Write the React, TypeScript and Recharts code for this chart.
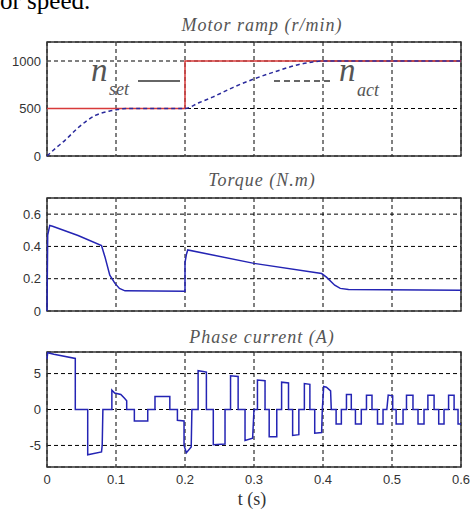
import React from "react";
import { LineChart, Line, XAxis, YAxis, CartesianGrid, ReferenceArea } from "recharts";

// time ticks shared by the three panels
const timeTicks = [0, 0.1, 0.2, 0.3, 0.4, 0.5, 0.6];

// speed panel (r/min)
const speedTicks = [0, 500, 1000];
const speedSet = [
    { t: 0, v: 500 },
    { t: 0.2, v: 500 },
    { t: 0.2, v: 1000 },
    { t: 0.6, v: 1000 }
];
const speedAct = [
    { t: 0, v: 0 },
    { t: 0.013, v: 85 },
    { t: 0.026, v: 165 },
    { t: 0.045, v: 297 },
    { t: 0.07, v: 427 },
    { t: 0.09, v: 472 },
    { t: 0.1, v: 487 },
    { t: 0.11, v: 498 },
    { t: 0.12, v: 500 },
    { t: 0.2, v: 500 },
    { t: 0.22, v: 560 },
    { t: 0.24, v: 620 },
    { t: 0.27, v: 723 },
    { t: 0.3, v: 811 },
    { t: 0.335, v: 898 },
    { t: 0.364, v: 961 },
    { t: 0.385, v: 990 },
    { t: 0.4, v: 1000 },
    { t: 0.6, v: 1000 }
];

// torque panel (N.m)
const torqueTicks = [0, 0.2, 0.4, 0.6];
const torque = [
    { t: 0, v: 0 },
    { t: 0.001, v: 0.47 },
    { t: 0.004, v: 0.53 },
    { t: 0.008, v: 0.525 },
    { t: 0.045, v: 0.468 },
    { t: 0.079, v: 0.405 },
    { t: 0.084, v: 0.335 },
    { t: 0.091, v: 0.222 },
    { t: 0.0985, v: 0.171 },
    { t: 0.105, v: 0.14 },
    { t: 0.113, v: 0.125 },
    { t: 0.2, v: 0.123 },
    { t: 0.2, v: 0.3 },
    { t: 0.202, v: 0.35 },
    { t: 0.204, v: 0.378 },
    { t: 0.3, v: 0.295 },
    { t: 0.398, v: 0.232 },
    { t: 0.405, v: 0.21 },
    { t: 0.417, v: 0.16 },
    { t: 0.425, v: 0.14 },
    { t: 0.437, v: 0.133 },
    { t: 0.6, v: 0.128 }
];

// phase current panel (A)
const currentTicks = [-5, 0, 5];
const current = [
    { t: 0, v: 7.0 }, { t: 0.001, v: 7.9 }, { t: 0.01, v: 7.7 }, { t: 0.041, v: 7.1 },
    { t: 0.041, v: 0 }, { t: 0.059, v: 0 }, { t: 0.059, v: -6.3 }, { t: 0.079, v: -5.9 },
    { t: 0.08, v: -5.0 }, { t: 0.081, v: 0 }, { t: 0.094, v: 0 }, { t: 0.094, v: 2.7 },
    { t: 0.098, v: 2.3 }, { t: 0.107, v: 2.1 }, { t: 0.112, v: 1.6 }, { t: 0.1155, v: 1.2 },
    { t: 0.1155, v: 0 }, { t: 0.1266, v: 0 }, { t: 0.1266, v: -1.6 }, { t: 0.146, v: -1.6 },
    { t: 0.146, v: 0 }, { t: 0.1565, v: 0 }, { t: 0.1565, v: 1.8 }, { t: 0.178, v: 1.8 },
    { t: 0.178, v: 0 }, { t: 0.189, v: 0 }, { t: 0.189, v: -1.5 }, { t: 0.1986, v: -1.6 },
    { t: 0.1986, v: -5.0 }, { t: 0.202, v: -6.0 }, { t: 0.209, v: -5.2 }, { t: 0.21, v: 0 },
    { t: 0.219, v: 0 }, { t: 0.219, v: 5.4 }, { t: 0.226, v: 5.3 }, { t: 0.231, v: 5.2 },
    { t: 0.231, v: 0 }, { t: 0.241, v: 0 }, { t: 0.241, v: -4.9 }, { t: 0.258, v: -4.8 },
    { t: 0.258, v: 0 }, { t: 0.266, v: 0 }, { t: 0.266, v: 4.7 }, { t: 0.277, v: 4.6 },
    { t: 0.277, v: 0 }, { t: 0.287, v: 0 }, { t: 0.287, v: -4.3 }, { t: 0.298, v: -4.0 },
    { t: 0.3, v: 0 }, { t: 0.305, v: 0 }, { t: 0.305, v: 4.1 }, { t: 0.316, v: 4.0 },
    { t: 0.316, v: 0 }, { t: 0.322, v: 0 }, { t: 0.322, v: -3.8 }, { t: 0.333, v: -3.8 },
    { t: 0.333, v: 0 }, { t: 0.34, v: 0 }, { t: 0.34, v: 3.8 }, { t: 0.35, v: 3.7 },
    { t: 0.35, v: 0 }, { t: 0.356, v: 0 }, { t: 0.356, v: -3.6 }, { t: 0.365, v: -3.5 },
    { t: 0.365, v: 0 }, { t: 0.373, v: 0 }, { t: 0.373, v: 3.6 }, { t: 0.381, v: 3.5 },
    { t: 0.381, v: 0 }, { t: 0.388, v: 0 }, { t: 0.388, v: -3.3 }, { t: 0.398, v: -3.2 },
    { t: 0.399, v: 0 }, { t: 0.401, v: 3.2 }, { t: 0.405, v: 3.1 }, { t: 0.411, v: 2.6 },
    { t: 0.412, v: 0 }, { t: 0.419, v: 0 }, { t: 0.419, v: -2.0 }, { t: 0.4266, v: -2.0 },
    { t: 0.4266, v: 0 }, { t: 0.434, v: 0 }, { t: 0.434, v: 2.1 }, { t: 0.441, v: 2.1 },
    { t: 0.441, v: 0 }, { t: 0.447, v: 0 }, { t: 0.447, v: -2.0 }, { t: 0.4555, v: -2.0 },
    { t: 0.4555, v: 0 }, { t: 0.463, v: 0 }, { t: 0.463, v: 2.0 }, { t: 0.471, v: 2.0 },
    { t: 0.471, v: 0 }, { t: 0.479, v: 0 }, { t: 0.479, v: -2.0 }, { t: 0.487, v: -2.0 },
    { t: 0.487, v: 0 }, { t: 0.4925, v: 0 }, { t: 0.4945, v: 2.0 }, { t: 0.501, v: 1.9 },
    { t: 0.501, v: 0 }, { t: 0.506, v: 0 }, { t: 0.506, v: -2.0 }, { t: 0.516, v: -2.0 },
    { t: 0.516, v: 0 }, { t: 0.521, v: 0 }, { t: 0.521, v: 2.0 }, { t: 0.5304, v: 2.0 },
    { t: 0.5304, v: 0 }, { t: 0.5377, v: 0 }, { t: 0.5377, v: -2.0 }, { t: 0.5464, v: -2.0 },
    { t: 0.5464, v: 0 }, { t: 0.552, v: 0 }, { t: 0.552, v: 2.0 }, { t: 0.561, v: 2.0 },
    { t: 0.561, v: 0 }, { t: 0.5677, v: 0 }, { t: 0.5677, v: -2.0 }, { t: 0.5754, v: -2.0 },
    { t: 0.5754, v: 0 }, { t: 0.582, v: 0 }, { t: 0.582, v: 2.0 }, { t: 0.59, v: 2.0 },
    { t: 0.59, v: 0 }, { t: 0.5957, v: 0 }, { t: 0.5957, v: -2.0 }, { t: 0.6, v: -2.0 }
];

const sans = "'Liberation Sans', Arial, sans-serif";
const serif = "'Liberation Serif', 'Times New Roman', serif";
const tickStyle = { fontSize: 13, fill: "#333", fontFamily: sans };
const blue = "#2424b4";

const Title: React.FC<{ top: number; text: string }> = ({ top, text }) => (
    <div
        style={{
            position: "absolute", left: 0, width: 524, top, textAlign: "center",
            fontFamily: serif, fontStyle: "italic", fontSize: 18, color: "#555",
            letterSpacing: 1, lineHeight: 1
        }}
    >
        {text}
    </div>
);

const yAxisProps = {
    width: 47,
    axisLine: false,
    tickLine: false,
    tickSize: 4,
    tickMargin: 2,
    tick: tickStyle
};

const Graphs: React.FC = () => {
    return (
        <div style={{ position: "absolute", left: 0, top: 0, width: 472, height: 510, background: "#fff", overflow: "hidden" }}>
            <div style={{ position: "absolute", left: 0, top: -12, fontFamily: serif, fontSize: 25, lineHeight: 1, color: "#000" }}>
                or speed.
            </div>

            <Title top={16} text="Motor ramp (r/min)" />
            <div style={{ position: "absolute", left: 0, top: 0 }}>
                <LineChart width={472} height={170} margin={{ top: 42, right: 11, bottom: 14, left: 0 }}>
                    <CartesianGrid stroke="#000" strokeDasharray="4 3" />
                    <XAxis dataKey="t" type="number" domain={[0, 0.6]} ticks={timeTicks} hide />
                    <YAxis type="number" domain={[0, 1200]} ticks={speedTicks} {...yAxisProps} />
                    <Line data={speedSet} dataKey="v" type="linear" stroke="#d83a3a" strokeWidth={1.5} dot={false} isAnimationActive={false} />
                    <Line data={speedAct} dataKey="v" type="monotone" stroke="#2a2a9c" strokeWidth={1.5} strokeDasharray="4 3" dot={false} isAnimationActive={false} />
                    <ReferenceArea x1={0} x2={0.6} y1={0} y2={1200} fill="none" stroke="#333" strokeWidth={1.5} />
                </LineChart>
            </div>
            {/* legend-like annotations */}
            <div style={{ position: "absolute", left: 91, top: 54, fontFamily: serif, fontStyle: "italic", fontSize: 33, color: "#555", lineHeight: 1 }}>n</div>
            <div style={{ position: "absolute", left: 109, top: 80, fontFamily: serif, fontStyle: "italic", fontSize: 18, color: "#555", lineHeight: 1 }}>set</div>
            <div style={{ position: "absolute", left: 138, top: 80, width: 42, borderTop: "2px solid #666" }} />
            <div style={{ position: "absolute", left: 274, top: 80, width: 56, borderTop: "2px dashed #666" }} />
            <div style={{ position: "absolute", left: 339, top: 54, fontFamily: serif, fontStyle: "italic", fontSize: 33, color: "#555", lineHeight: 1 }}>n</div>
            <div style={{ position: "absolute", left: 357, top: 81, fontFamily: serif, fontStyle: "italic", fontSize: 18, color: "#555", lineHeight: 1 }}>act</div>

            <Title top={171} text="Torque (N.m)" />
            <div style={{ position: "absolute", left: 0, top: 170 }}>
                <LineChart width={472} height={150} margin={{ top: 28, right: 11, bottom: 9, left: 0 }}>
                    <CartesianGrid stroke="#000" strokeDasharray="4 3" />
                    <XAxis dataKey="t" type="number" domain={[0, 0.6]} ticks={timeTicks} hide />
                    <YAxis type="number" domain={[0, 0.7]} ticks={torqueTicks} tickFormatter={(v: number) => (v === 0 ? "0" : String(v))} {...yAxisProps} />
                    <Line data={torque} dataKey="v" type="linear" stroke={blue} strokeWidth={1.5} dot={false} isAnimationActive={false} />
                    <ReferenceArea x1={0} x2={0.6} y1={0} y2={0.7} fill="none" stroke="#333" strokeWidth={1.5} />
                </LineChart>
            </div>

            <Title top={328} text="Phase current (A)" />
            <div style={{ position: "absolute", left: 0, top: 320 }}>
                <LineChart width={472} height={190} margin={{ top: 32, right: 11, bottom: 13, left: 0 }}>
                    <CartesianGrid stroke="#000" strokeDasharray="4 3" />
                    <XAxis
                        dataKey="t" type="number" domain={[0, 0.6]} ticks={timeTicks} height={30}
                        axisLine={false} tickLine={false} tick={tickStyle}
                        tickFormatter={(v: number) => (v === 0 ? "0" : String(v))}
                    />
                    <YAxis type="number" domain={[-8, 8]} ticks={currentTicks} {...yAxisProps} />
                    <Line data={current} dataKey="v" type="linear" stroke={blue} strokeWidth={1.5} dot={false} isAnimationActive={false} />
                    <ReferenceArea x1={0} x2={0.6} y1={-8} y2={8} fill="none" stroke="#333" strokeWidth={1.5} />
                </LineChart>
            </div>
            <div style={{ position: "absolute", left: 0, width: 504, top: 490, textAlign: "center", fontFamily: serif, fontSize: 18, color: "#333", lineHeight: 1 }}>
                t (s)
            </div>
        </div>
    );
};

export default Graphs;
